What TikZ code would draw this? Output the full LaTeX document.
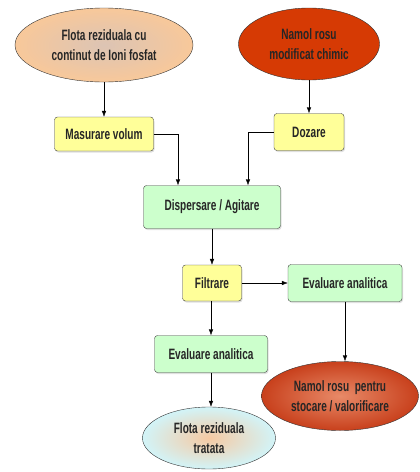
\documentclass[tikz,border=0pt]{standalone}
\usepackage{fontspec}
\setmainfont{Liberation Sans}[FakeStretch=0.67]
\usetikzlibrary{shapes.geometric,shadows,arrows.meta}
\definecolor{peach}{HTML}{F8C89A}
\definecolor{peachin}{HTML}{DCC4B4}
\definecolor{rust}{HTML}{D63A04}
\definecolor{rustin}{HTML}{E88A68}
\definecolor{rustout}{HTML}{C8401C}
\definecolor{icecyan}{HTML}{D2F4F8}
\definecolor{icein}{HTML}{F6C9A2}
\definecolor{paleyellow}{HTML}{FFFF99}
\definecolor{palegreen}{HTML}{CCFFCC}
\tikzset{
  blob/.style={ellipse,draw=black!80,inner sep=0pt,align=center,text=black!85,font=\fontsize{15}{20}\selectfont\bfseries},
  procbox/.style={rectangle,rounded corners=3pt,draw=black!75,inner sep=0pt,text=black!85,font=\fontsize{15}{20}\selectfont\bfseries,
    drop shadow={shadow xshift=1pt,shadow yshift=-1.5pt,opacity=.25}},
}
\begin{document}
\begin{tikzpicture}[x=1pt,y=-1pt,>={Latex[length=6pt,width=4.5pt]}]
\useasboundingbox (0,0) rectangle (420,472);
\node[name=flota,blob,minimum width=178pt,minimum height=74pt,shading=radial,inner color=peachin,outer color=peach] at (104,45) {Flota reziduala cu\\continut de Ioni fosfat};
\node[name=namol,blob,minimum width=141pt,minimum height=72pt,fill=rust] at (309,44) {Namol rosu\\modificat chimic};
\node[name=mas,procbox,fill=paleyellow,minimum width=99pt,minimum height=34pt] at (104,134) {Masurare volum};
\node[name=doz,procbox,fill=paleyellow,minimum width=70pt,minimum height=37pt] at (309,132) {Dozare};
\node[name=disp,procbox,fill=palegreen,minimum width=137pt,minimum height=43pt] at (212,207) {Dispersare / Agitare};
\node[name=filt,procbox,fill=paleyellow,minimum width=59pt,minimum height=36pt] at (212,283) {Filtrare};
\node[name=eval1,procbox,fill=palegreen,minimum width=114pt,minimum height=37pt] at (345,283) {Evaluare analitica};
\node[name=eval2,procbox,fill=palegreen,minimum width=113pt,minimum height=37pt] at (211,354) {Evaluare analitica};
\node[name=stoc,blob,minimum width=157pt,minimum height=69pt,shading=radial,inner color=rustin,outer color=rustout] at (340,396) {Namol rosu~ pentru\\stocare / valorificare};
\node[name=trat,blob,minimum width=133pt,minimum height=62pt,shading=radial,inner color=icein,outer color=icecyan] at (209,438) {Flota reziduala\\tratata};

\draw[->] (flota) to (mas);
\draw[->] (namol) to (doz);
\draw[->] (mas.east) -| ([xshift=-34pt]disp.north);
\draw[->] (doz.west) -| ([xshift=36pt]disp.north);
\draw[->] (disp) to (filt);
\draw[->] (filt) to (eval1);
\draw[->] (filt.south -| eval2.south) to (eval2.north);
\draw[->] (eval1.south) to (stoc.north -| eval1.south);
\draw[->] (eval2.south) to (trat.north -| eval2.south);
\end{tikzpicture}
\end{document}
